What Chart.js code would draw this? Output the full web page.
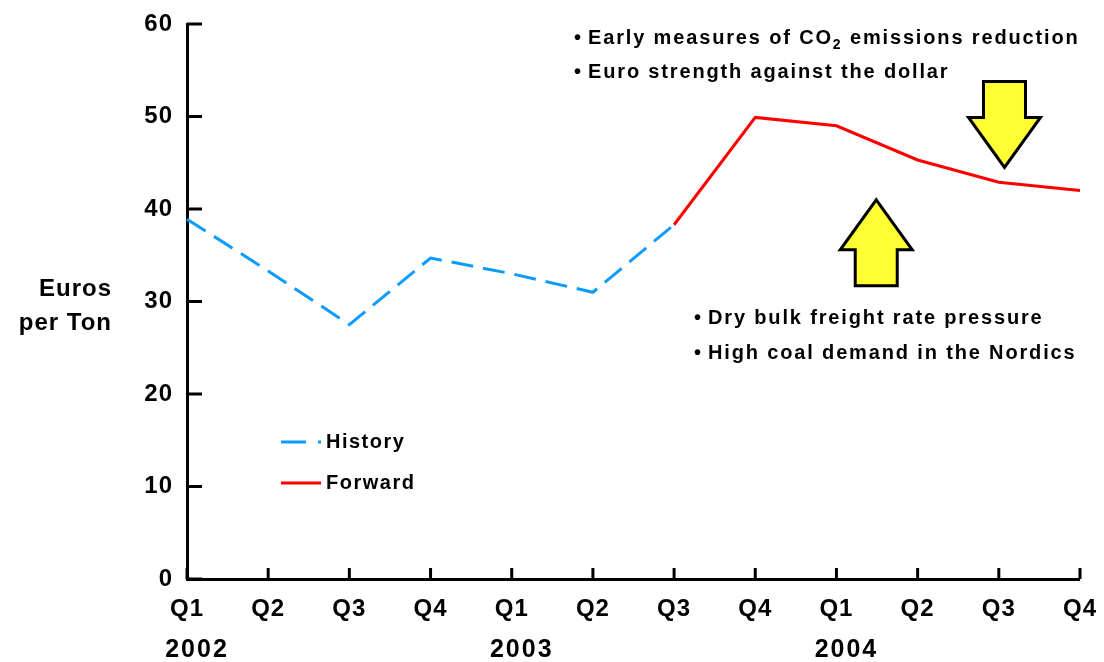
<!DOCTYPE html>
<html>
<head>
<meta charset="utf-8">
<script src="https://cdn.jsdelivr.net/npm/chart.js@4/dist/chart.umd.min.js"></script>
<style>
  html, body { margin: 0; padding: 0; background: #fff; }
  #wrap { width: 1104px; height: 662px; }
</style>
</head>
<body>
<div id="wrap"><canvas id="c"></canvas></div>
<script>
// Quarterly coal price, euros per ton
const quarters = ['Q1', 'Q2', 'Q3', 'Q4', 'Q1', 'Q2', 'Q3', 'Q4', 'Q1', 'Q2', 'Q3', 'Q4'];
const years = ['2002', '2003', '2004'];
const yearStartIndex = [0, 4, 8];
const historyPrices = [38.9, 33.3, 27.5, 34.7, 33.0, 31.0, 38.3, null, null, null, null, null];
const forwardPrices = [null, null, null, null, null, null, 38.3, 49.9, 49.0, 45.3, 42.9, 42.0];
const yTickValues = [0, 10, 20, 30, 40, 50, 60];

// Drivers pushing the price up / down
const upsideDrivers = [
  [['Early measures of CO', false], ['2', true], [' emissions reduction', false]],
  [['Euro strength against the dollar', false]]
];
const downsideDrivers = [
  [['Dry bulk freight rate pressure', false]],
  [['High coal demand in the Nordics', false]]
];
// Arrow anchors: category index of the arrow axis, value at the arrow tip
const downArrow = { index: 10.07, tip: 44.5 };
const upArrow = { index: 8.49, tip: 41.0 };

const FONT = '"Liberation Sans", Arial, Helvetica, sans-serif';
const BLUE = '#0A9BFF';
const RED = '#FF0000';

function drawNote(ctx, x, y, parts) {
  ctx.fillStyle = '#000';
  ctx.textBaseline = 'middle';
  ctx.textAlign = 'left';
  ctx.letterSpacing = '1.85px';
  ctx.font = `bold 20px ${FONT}`;
  ctx.fillText('•', x, y);
  let cx = x + 14;
  parts.forEach(([t, sub]) => {
    if (sub) {
      ctx.font = `bold 14px ${FONT}`;
      ctx.fillText(t, cx, y + 7);
      cx += ctx.measureText(t).width;
      ctx.font = `bold 20px ${FONT}`;
    } else {
      ctx.fillText(t, cx, y);
      cx += ctx.measureText(t).width;
    }
  });
}

function drawArrow(ctx, cx, tipY, dir) {
  // dir = 1 points down, -1 points up
  const headW = 36, shaftW = 21, headH = 50, shaftL = 36;
  const baseY = tipY - dir * headH;
  const endY = baseY - dir * shaftL;
  ctx.beginPath();
  ctx.moveTo(cx - shaftW, endY);
  ctx.lineTo(cx + shaftW, endY);
  ctx.lineTo(cx + shaftW, baseY);
  ctx.lineTo(cx + headW, baseY);
  ctx.lineTo(cx, tipY);
  ctx.lineTo(cx - headW, baseY);
  ctx.lineTo(cx - shaftW, baseY);
  ctx.closePath();
  ctx.fillStyle = '#FFFF33';
  ctx.fill();
  ctx.lineWidth = 3;
  ctx.lineJoin = 'miter';
  ctx.strokeStyle = '#000';
  ctx.stroke();
}

const decor = {
  id: 'decor',
  beforeDraw(chart) {
    chart.ctx.letterSpacing = '1px';
  },
  afterDraw(chart) {
    const { ctx, chartArea: a, scales: { x, y } } = chart;
    ctx.save();
    ctx.letterSpacing = '1px';

    // inward tick marks
    ctx.strokeStyle = '#000';
    ctx.lineWidth = 3;
    ctx.lineCap = 'butt';
    yTickValues.forEach(v => {
      const py = y.getPixelForValue(v);
      ctx.beginPath();
      ctx.moveTo(a.left, py);
      ctx.lineTo(a.left + 15, py);
      ctx.stroke();
    });
    quarters.forEach((q, i) => {
      const px = x.getPixelForValue(i);
      ctx.beginPath();
      ctx.moveTo(px, a.bottom);
      ctx.lineTo(px, a.bottom - 11);
      ctx.stroke();
    });

    // year labels under the quarters
    ctx.fillStyle = '#000';
    ctx.font = `bold 25px ${FONT}`;
    ctx.letterSpacing = '2px';
    ctx.textAlign = 'center';
    ctx.textBaseline = 'middle';
    years.forEach((yr, k) => {
      ctx.fillText(yr, x.getPixelForValue(yearStartIndex[k]) + 10, 650);
    });

    // axis title
    ctx.font = `bold 24px ${FONT}`;
    ctx.letterSpacing = '1px';
    ctx.textAlign = 'right';
    ctx.fillText('Euros', 112, 289);
    ctx.fillText('per Ton', 112, 323);

    // legend
    const legendRows = [442, 483];
    chart.data.datasets.forEach((ds, i) => {
      const ly = legendRows[i];
      ctx.save();
      ctx.strokeStyle = ds.borderColor;
      ctx.lineWidth = 3;
      ctx.setLineDash(ds.borderDash ? [25, 12] : []);
      ctx.beginPath();
      ctx.moveTo(281, ly);
      ctx.lineTo(321, ly);
      ctx.stroke();
      ctx.restore();
      ctx.fillStyle = '#000';
      ctx.font = `bold 20px ${FONT}`;
      ctx.letterSpacing = '1.5px';
      ctx.textAlign = 'left';
      ctx.textBaseline = 'middle';
      ctx.fillText(ds.label, 326, ly);
    });

    // arrows
    drawArrow(ctx, x.getPixelForValue(downArrow.index), y.getPixelForValue(downArrow.tip), 1);
    drawArrow(ctx, x.getPixelForValue(upArrow.index), y.getPixelForValue(upArrow.tip), -1);

    // driver notes
    upsideDrivers.forEach((p, i) => drawNote(ctx, 574, 38 + i * 34, p));
    downsideDrivers.forEach((p, i) => drawNote(ctx, 694, 318 + i * 35, p));

    ctx.restore();
  }
};

new Chart(document.getElementById('c'), {
  type: 'line',
  data: {
    labels: quarters,
    datasets: [
      {
        label: 'History',
        data: historyPrices,
        borderColor: BLUE,
        borderWidth: 3,
        borderDash: [22, 10],
        pointRadius: 0,
        fill: false,
        tension: 0
      },
      {
        label: 'Forward',
        data: forwardPrices,
        borderColor: RED,
        borderWidth: 3,
        pointRadius: 0,
        fill: false,
        tension: 0
      }
    ]
  },
  options: {
    responsive: true,
    maintainAspectRatio: false,
    animation: false,
    events: [],
    layout: { padding: { top: 24, right: 18, left: 0, bottom: 0 } },
    plugins: { legend: { display: false }, tooltip: { enabled: false } },
    scales: {
      x: {
        offset: false,
        grid: { display: false },
        border: { display: true, color: '#000', width: 3 },
        ticks: {
          color: '#000',
          font: { family: FONT, size: 24, weight: 'bold' },
          padding: 8,
          autoSkip: false,
          maxRotation: 0
        },
        afterFit(s) { s.height = 83; }
      },
      y: {
        min: 0,
        max: 60,
        grid: { display: false },
        border: { display: true, color: '#000', width: 3 },
        ticks: {
          stepSize: 10,
          color: '#000',
          font: { family: FONT, size: 24, weight: 'bold' },
          padding: 6
        },
        afterFit(s) { s.width = 187; }
      }
    }
  },
  plugins: [decor]
});
</script>
</body>
</html>
